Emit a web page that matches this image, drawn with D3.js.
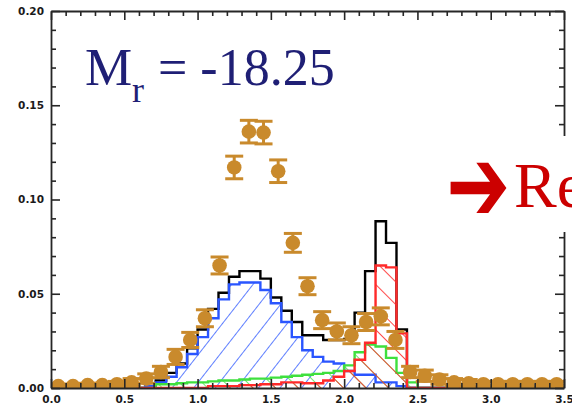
<!DOCTYPE html>
<html>
<head>
<meta charset="utf-8">
<script src="https://cdn.jsdelivr.net/npm/d3@7"></script>
<style>
  html, body { margin: 0; padding: 0; background: #fff; }
  svg { display: block; }
</style>
</head>
<body>
<svg id="chart" width="572" height="414"></svg>
<script>
// ---------------- DATA ----------------
const xDomain = [0, 3.5];
const yDomain = [0, 0.2];
const xMajorTicks = [0, 0.5, 1.0, 1.5, 2.0, 2.5, 3.0, 3.5];
const xTickLabels = ["0.0", "0.5", "1.0", "1.5", "2.0", "2.5", "3.0", "3.5"];
const yMajorTicks = [0, 0.05, 0.10, 0.15, 0.20];
const yTickLabels = ["0.00", "0.05", "0.10", "0.15", "0.20"];

// histogram bins: 49 bins of width 1/14 from 0 to 3.5
const binWidth = 1 / 14;
const binCount = 49;

const totalHist = [0,0,0,0,0,0,0,0,0,0.001,0.004,0.008,0.013,0.021,0.031,0.042,0.0505,0.059,0.062,0.062,0.058,0.048,0.041,0.035,0.028,0.028,0.0255,0.0255,0.026,0.040,0.062,0.0885,0.077,0.031,0,0,0,0,0,0,0,0,0,0,0,0,0,0,0];
const blueHist  = [0,0,0,0,0,0,0,0,0,0.001,0.003,0.006,0.011,0.018,0.027,0.037,0.047,0.055,0.056,0.056,0.052,0.045,0.035,0.027,0.020,0.0165,0.014,0.013,0.009,0.007,0.007,0.003,0.003,0.001,0,0,0,0,0,0,0,0,0,0,0,0,0,0,0];
const greenHist = [0,0,0,0,0,0,0,0,0,0,0.002,0.002,0.0025,0.003,0.003,0.0035,0.004,0.004,0.0045,0.005,0.005,0.0055,0.006,0.0065,0.007,0.0075,0.008,0.009,0.012,0.019,0.023,0.022,0.016,0.008,0.003,0,0,0,0,0,0,0,0,0,0,0,0,0,0];
const redHist   = [0,0,0,0,0,0,0,0,0,0,0,0,0,0,0,0.001,0.001,0.001,0.0015,0.0015,0.002,0.002,0.003,0.003,0.0025,0.0025,0.004,0.006,0.009,0.015,0.024,0.065,0.064,0.029,0,0,0,0,0,0,0,0,0,0,0,0,0,0,0];

// observed points with error bars
const pointX = [0.05,0.15,0.25,0.35,0.45,0.55,0.65,0.75,0.85,0.95,1.05,1.15,1.25,1.35,1.45,1.55,1.65,1.75,1.85,1.95,2.05,2.15,2.25,2.35,2.45,2.55,2.65,2.75,2.85,2.95,3.05,3.15,3.25,3.35,3.45];
const pointY = [0.001,0.001,0.0015,0.0015,0.002,0.003,0.005,0.0085,0.0165,0.0255,0.037,0.065,0.117,0.136,0.1355,0.115,0.077,0.054,0.036,0.030,0.028,0.035,0.038,0.0255,0.0085,0.0065,0.0045,0.003,0.0025,0.002,0.002,0.002,0.002,0.002,0.002];
const pointErr = [0.001,0.001,0.001,0.001,0.0015,0.002,0.0025,0.003,0.004,0.004,0.0045,0.0045,0.006,0.006,0.006,0.006,0.005,0.0045,0.0045,0.0045,0.0045,0.0045,0.0045,0.0045,0.003,0.003,0.0025,0.002,0.002,0.0015,0.0015,0.0015,0.0015,0.0015,0.0015];

const titleText = { main: "M", sub: "r", rest: "= -18.25" };
const arrowText = "\u2794";
const redText = "Re";

// ---------------- CHART ----------------
const svg = d3.select("#chart");
const x = d3.scaleLinear().domain(xDomain).range([51, 564]);
const y = d3.scaleLinear().domain(yDomain).range([388, 11]);

const defs = svg.append("defs");
defs.append("clipPath").attr("id", "plotClip")
  .append("rect").attr("x", 51).attr("y", 11).attr("width", 513).attr("height", 377);

function hatch(id, color, spacing, angle, width) {
  const p = defs.append("pattern").attr("id", id)
    .attr("patternUnits", "userSpaceOnUse")
    .attr("width", spacing).attr("height", spacing)
    .attr("patternTransform", `rotate(${angle})`);
  p.append("line").attr("x1", 0).attr("y1", -2).attr("x2", 0).attr("y2", spacing + 2)
    .attr("stroke", color).attr("stroke-width", width);
}
hatch("hBlue", "#2a55ff", 17, 38, 1.5);
hatch("hGreen", "#3ee03e", 16, -45, 1.5);
hatch("hRed", "#ff2a2a", 16, -45, 1.7);

const plot = svg.append("g").attr("clip-path", "url(#plotClip)");

function histPoints(vals) {
  const pts = vals.map((v, k) => ({ x: k * binWidth, v }));
  pts.push({ x: binCount * binWidth, v: vals[vals.length - 1] });
  return pts;
}
const stepLine = d3.line().x(d => x(d.x)).y(d => y(d.v)).curve(d3.curveStepAfter);
const stepArea = d3.area().x(d => x(d.x)).y0(y(0)).y1(d => y(d.v)).curve(d3.curveStepAfter);

const hists = [
  { vals: totalHist, color: "#000000", fill: null },
  { vals: blueHist, color: "#2a55ff", fill: "url(#hBlue)" },
  { vals: greenHist, color: "#3ee03e", fill: "url(#hGreen)" },
  { vals: redHist, color: "#ff2a2a", fill: "url(#hRed)" }
];
hists.forEach(h => {
  const pts = histPoints(h.vals);
  if (h.fill) plot.append("path").attr("d", stepArea(pts)).attr("fill", h.fill).attr("stroke", "none");
  plot.append("path").attr("d", stepLine(pts)).attr("fill", "none")
    .attr("stroke", h.color).attr("stroke-width", 2.4).attr("stroke-linejoin", "miter");
});

// points with error bars
const ptColor = "#c98a2c";
const pts = pointX.map((px, i) => ({ x: px, v: pointY[i], e: pointErr[i] }));
const pg = plot.append("g").selectAll("g").data(pts).join("g");
pg.append("line")
  .attr("x1", d => x(d.x)).attr("x2", d => x(d.x))
  .attr("y1", d => y(d.v - d.e)).attr("y2", d => y(d.v + d.e))
  .attr("stroke", ptColor).attr("stroke-width", 3);
pg.append("line")
  .attr("x1", d => x(d.x) - 9).attr("x2", d => x(d.x) + 9)
  .attr("y1", d => y(d.v + d.e)).attr("y2", d => y(d.v + d.e))
  .attr("stroke", ptColor).attr("stroke-width", 3);
pg.append("line")
  .attr("x1", d => x(d.x) - 9).attr("x2", d => x(d.x) + 9)
  .attr("y1", d => y(d.v - d.e)).attr("y2", d => y(d.v - d.e))
  .attr("stroke", ptColor).attr("stroke-width", 3);
pg.append("circle")
  .attr("cx", d => x(d.x)).attr("cy", d => y(d.v)).attr("r", 7.3)
  .attr("fill", ptColor);

// ---------------- AXES ----------------
const axisColor = "#262626";
const xMinor = d3.range(0, 36).map(i => i / 10).filter(v => Math.abs(v * 2 - Math.round(v * 2)) > 1e-6);
const yMinor = d3.range(0, 21).map(i => i / 100).filter(v => Math.abs(v * 20 - Math.round(v * 20)) > 1e-6);

function styleAxis(g) {
  g.select(".domain").attr("stroke", axisColor).attr("stroke-width", 1.8);
  g.selectAll(".tick line").attr("stroke", axisColor).attr("stroke-width", 1.6);
  g.selectAll(".tick text")
    .attr("fill", "#1a1a1a")
    .style("font-family", "'DejaVu Sans', sans-serif")
    .style("font-weight", "bold")
    .style("font-size", "10.5px");
}

// bottom
svg.append("g").attr("transform", `translate(0,${y(0)})`)
  .call(d3.axisBottom(x).tickValues(xMajorTicks).tickSize(-9).tickPadding(8)
    .tickFormat((d, i) => xTickLabels[i]).tickSizeOuter(0))
  .call(styleAxis);
svg.append("g").attr("transform", `translate(0,${y(0)})`)
  .call(d3.axisBottom(x).tickValues(xMinor).tickSize(-5).tickFormat("").tickSizeOuter(0))
  .call(styleAxis).select(".domain").remove();
// top
svg.append("g").attr("transform", `translate(0,${y(0.2)})`)
  .call(d3.axisTop(x).tickValues(xMajorTicks).tickSize(-9).tickFormat("").tickSizeOuter(0))
  .call(styleAxis);
svg.append("g").attr("transform", `translate(0,${y(0.2)})`)
  .call(d3.axisTop(x).tickValues(xMinor).tickSize(-5).tickFormat("").tickSizeOuter(0))
  .call(styleAxis).select(".domain").remove();
// left
svg.append("g").attr("transform", `translate(${x(0)},0)`)
  .call(d3.axisLeft(y).tickValues(yMajorTicks).tickSize(-9).tickPadding(7)
    .tickFormat((d, i) => yTickLabels[i]).tickSizeOuter(0))
  .call(styleAxis);
svg.append("g").attr("transform", `translate(${x(0)},0)`)
  .call(d3.axisLeft(y).tickValues(yMinor).tickSize(-5).tickFormat("").tickSizeOuter(0))
  .call(styleAxis).select(".domain").remove();
// right
svg.append("g").attr("transform", `translate(${x(3.5)},0)`)
  .call(d3.axisRight(y).tickValues(yMajorTicks).tickSize(-9).tickFormat("").tickSizeOuter(0))
  .call(styleAxis);
svg.append("g").attr("transform", `translate(${x(3.5)},0)`)
  .call(d3.axisRight(y).tickValues(yMinor).tickSize(-5).tickFormat("").tickSizeOuter(0))
  .call(styleAxis).select(".domain").remove();

// ---------------- OVERLAY TEXT ----------------
const t = svg.append("text")
  .attr("fill", "#1f1f75")
  .style("font-family", "'Liberation Serif', 'Times New Roman', serif");
t.append("tspan").attr("x", 85).attr("y", 85).style("font-size", "53px").text(titleText.main);
t.append("tspan").attr("x", 132).attr("y", 102).style("font-size", "36px").text(titleText.sub);
t.append("tspan").attr("x", 158).attr("y", 85).style("font-size", "52px").text(titleText.rest);

svg.append("rect").attr("x", 427).attr("y", 136).attr("width", 145).attr("height", 96).attr("fill", "#ffffff");
svg.append("text")
  .attr("transform", "translate(450,186) scale(1.23,1.7)")
  .attr("x", -3).attr("y", 20.5)
  .attr("fill", "#cc0000")
  .style("font-family", "'DejaVu Sans', sans-serif").style("font-size", "62px")
  .text(arrowText);
svg.append("text").attr("x", 514).attr("y", 207)
  .attr("fill", "#cc0000")
  .style("font-family", "'Liberation Serif', 'Times New Roman', serif").style("font-size", "64px")
  .text(redText);
</script>
</body>
</html>
